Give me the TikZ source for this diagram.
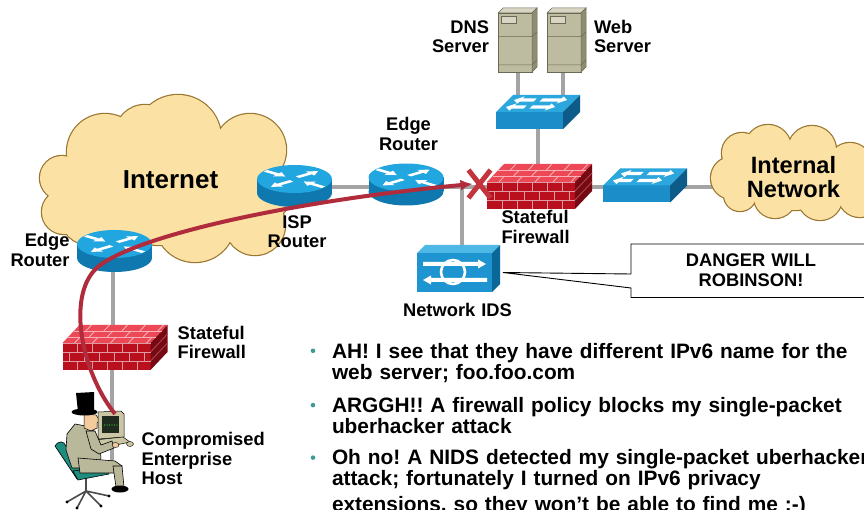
\documentclass[tikz,border=0pt]{standalone}
\usepackage{fontspec}
\setmainfont{Liberation Sans}
\usetikzlibrary{arrows.meta}
\frenchspacing

\definecolor{cloudfill}{HTML}{FBE2A4}
\definecolor{cloudline}{HTML}{9A7630}
\definecolor{linkgray}{HTML}{A4A4A4}
\definecolor{routertop}{HTML}{22A6DF}
\definecolor{routerside}{HTML}{0F78AE}
\definecolor{switchtop}{HTML}{2CA7DE}
\definecolor{switchfront}{HTML}{1B8DC8}
\definecolor{switchside}{HTML}{0C5B88}
\definecolor{idstop}{HTML}{4DB8E6}
\definecolor{idsfront}{HTML}{1E94D0}
\definecolor{idsside}{HTML}{0B6797}
\definecolor{brickfront}{HTML}{BA0F1D}
\definecolor{bricktop}{HTML}{EC4855}
\definecolor{brickside}{HTML}{760912}
\definecolor{mortarf}{HTML}{DE9BA1}
\definecolor{mortart}{HTML}{F7B0B6}
\definecolor{mortars}{HTML}{A8464F}
\definecolor{servfront}{HTML}{BEBCA0}
\definecolor{servtop}{HTML}{D8D6C2}
\definecolor{servside}{HTML}{8F8D71}
\definecolor{servline}{HTML}{6B6956}
\definecolor{attackred}{HTML}{B02B3C}
\definecolor{xred}{HTML}{C3343F}
\definecolor{bulletteal}{HTML}{3E9A96}
\definecolor{chairteal}{HTML}{1E8C7E}
\definecolor{suit}{HTML}{B9B89B}
\definecolor{skin}{HTML}{F3CB9C}
\definecolor{pcbeige}{HTML}{CBC7A4}
\definecolor{screendark}{HTML}{1D2A1D}
\definecolor{screengreen}{HTML}{3DD23D}

% white block arrow: tail x, tail y, angle, length, shaft half width, head half width, head length
\newcommand\polyarrow[7]{%
  \fill[white,shift={(#1,#2)},rotate=#3]
    (0,-#5) -- ({#4-#7},-#5) -- ({#4-#7},-#6) -- (#4,0) -- ({#4-#7},#6) -- ({#4-#7},#5) -- (0,#5) -- cycle;}

% cloud as a union of circles: outline pass, then fill pass
\newcommand\puffcloud[1]{%
  \foreach \px/\py/\pr in {#1} {\draw[cloudline, line width=2.4pt] (\px,\py) circle[radius=\pr];}
  \foreach \px/\py/\pr in {#1} {\fill[cloudfill] (\px,\py) circle[radius=\pr];}}

\tikzset{
  devbox/.style={inner sep=0pt, outer sep=0pt, draw=none},
  link/.style={draw=linkgray, line width=4pt},
  mfront/.style={draw=mortarf, line width=0.9pt},
  mtop/.style={draw=mortart, line width=0.9pt},
  lblfont/.style={font=\bfseries\fontsize{18.3}{19.5}\selectfont, inner sep=0pt, outer sep=0pt, text width=140pt},
  lblL/.style={lblfont, align=left, anchor=base west},
  lblR/.style={lblfont, align=right, anchor=base east},
  lblC/.style={lblfont, align=center, anchor=base},
  bul/.style={font=\bfseries\fontsize{20.85}{21}\selectfont, inner sep=0pt, outer sep=0pt,
              text width=560pt, align=left, anchor=base west},
  attack/.style={draw=attackred, line width=4pt, -{Latex[length=12pt,width=11pt]}},
  xstroke/.style={draw=xred, line width=5pt},
  router/.pic={
    \fill[routerside] (-37.5,-7) rectangle (37.5,7);
    \fill[routerside] (0,7) ellipse [x radius=37.5, y radius=14];
    \fill[routertop] (0,-7) ellipse [x radius=37.5, y radius=14];
    \begin{scope}[shift={(0,-7)}, yscale=0.3733]
      \polyarrow{-29}{-22}{-38}{25}{2.8}{7}{10}
      \polyarrow{3}{-5}{38}{26}{2.8}{7}{10}
      \polyarrow{-3}{5}{218}{26}{2.8}{7}{10}
      \polyarrow{29}{22}{142}{25}{2.8}{7}{10}
    \end{scope}
  },
  switch/.pic={
    \fill[switchfront] (-42,0) rectangle (25,17);
    \fill[switchtop] (-42,0) -- (-25,-17) -- (42,-17) -- (25,0) -- cycle;
    \fill[switchside] (25,0) -- (42,-17) -- (42,0) -- (25,17) -- cycle;
    \begin{scope}[shift={(-42,0)}, xslant=1]
      \polyarrow{27}{-12}{180}{21}{1.6}{3.6}{7}
      \polyarrow{33}{-12}{0}{26}{1.6}{3.6}{7}
      \polyarrow{24}{-5}{180}{19}{1.6}{3.6}{7}
      \polyarrow{30}{-5}{0}{24}{1.6}{3.6}{7}
    \end{scope}
  },
  firewall/.pic={
    \fill[brickfront] (-52.5,-4.5) rectangle (35.5,22.5);
    \fill[bricktop] (-52.5,-4.5) -- (-35.5,-22.5) -- (52.5,-22.5) -- (35.5,-4.5) -- cycle;
    \fill[brickside] (35.5,-4.5) -- (52.5,-22.5) -- (52.5,4.5) -- (35.5,22.5) -- cycle;
    \draw[mfront] (-52.5,-4.5) -- (35.5,-4.5) (-52.5,4.5) -- (35.5,4.5) (-52.5,13.5) -- (35.5,13.5);
    \foreach \bx in {15,30,45,60,75} {\draw[mfront] ({-52.5+\bx},-4.5) -- ({-52.5+\bx},4.5) ({-52.5+\bx},13.5) -- ({-52.5+\bx},22.5);}
    \foreach \bx in {7,22,37,52,67,82} {\draw[mfront] ({-52.5+\bx},4.5) -- ({-52.5+\bx},13.5);}
    \begin{scope}[shift={(-52.5,-4.5)}, xslant=0.944]
      \draw[mtop] (0,-6) -- (88,-6) (0,-12) -- (88,-12);
      \foreach \bx in {12,30,48,66,84} {\draw[mtop] (\bx,0) -- (\bx,-6) (\bx,-12) -- (\bx,-18);}
      \foreach \bx in {21,39,57,75} {\draw[mtop] (\bx,-6) -- (\bx,-12);}
    \end{scope}
    \draw[mortars, line width=0.9pt] (35.5,4.5) -- (52.5,-13.5) (35.5,13.5) -- (52.5,-4.5);
  },
  idsbox/.pic={
    \fill[idsfront] (-41.5,-15.5) rectangle (33.5,23.5);
    \fill[idstop] (-41.5,-15.5) -- (-33.5,-23.5) -- (41.5,-23.5) -- (33.5,-15.5) -- cycle;
    \fill[idsside] (33.5,-15.5) -- (41.5,-23.5) -- (41.5,15.5) -- (33.5,23.5) -- cycle;
    \draw[white, line width=2.6pt] (-5.5,3.5) circle[radius=12];
    \polyarrow{-35.5}{-4.5}{0}{63}{2}{4.5}{8}
    \polyarrow{28.5}{11.5}{180}{64}{2}{4.5}{8}
  },
  server/.pic={
    \filldraw[fill=servfront, draw=servline, line width=0.5pt] (-19.5,-27) rectangle (14.5,32);
    \filldraw[fill=servtop, draw=servline, line width=0.5pt] (-19.5,-27) -- (-14.5,-32) -- (19.5,-32) -- (14.5,-27) -- cycle;
    \filldraw[fill=servside, draw=servline, line width=0.5pt] (14.5,-27) -- (19.5,-32) -- (19.5,27) -- (14.5,32) -- cycle;
    \filldraw[fill=servtop, draw=servline, line width=0.5pt] (-15.8,-23.3) rectangle (-0.8,-16.7);
    \draw[servline, line width=0.5pt] (-19.5,-3.3) -- (14.5,-3.3) -- (19.5,-8.3);
    \draw[servline, line width=0.5pt] (-19.5,25) -- (14.5,25) -- (19.5,20);
  }
}

\begin{document}
\begin{tikzpicture}[x=1pt,y=-1pt]
\useasboundingbox (0,0) rectangle (864,510);
\clip (0,0) rectangle (864,510);
\fill[white] (0,0) rectangle (864,510);

% device frames (positions of the icons)
\node[devbox, minimum width=250pt, minimum height=170pt] (inetcloud) at (165,180) {};
\node[devbox, minimum width=150pt, minimum height=96pt] (intcloud) at (790,171) {};
\node[devbox, minimum width=75pt, minimum height=42pt] (edgeL) at (114.5,251) {};
\node[devbox, minimum width=75pt, minimum height=42pt] (isp) at (294.5,186) {};
\node[devbox, minimum width=75pt, minimum height=42pt] (edgeR) at (406,184.5) {};
\node[devbox, minimum width=105pt, minimum height=45pt] (fwTop) at (539.5,186.5) {};
\node[devbox, minimum width=105pt, minimum height=45pt] (fwL) at (115,347.5) {};
\node[devbox, minimum width=84pt, minimum height=34pt] (swTop) at (538,112) {};
\node[devbox, minimum width=84pt, minimum height=34pt] (swRight) at (645,185.5) {};
\node[devbox, minimum width=83pt, minimum height=47pt] (ids) at (458.5,268.5) {};
\node[devbox, minimum width=39pt, minimum height=64pt] (dns) at (517.5,40) {};
\node[devbox, minimum width=39pt, minimum height=64pt] (web) at (566.5,40) {};
\node[devbox, minimum width=22pt, minimum height=28pt] (xmark) at (479.5,184) {};

\coordinate (bus) at (0,187);
\coordinate (webjack) at ([xshift=-4pt]web.south);
\coordinate (idsjack) at ([xshift=3.5pt]ids.north);
\coordinate (edgeLjack) at ([xshift=-2pt]edgeL.center);
\coordinate (hostjack) at (112,462);
\coordinate (mon) at (115,414);
\coordinate (hit) at ([xshift=-7pt]xmark.center);
\coordinate (idsport) at ([shift={(3,4)}]ids.east);

% cabling
\draw[link] (isp.center |- bus) -- (edgeR.center |- bus);
\draw[link] (edgeR.center |- bus) -- (fwTop.center |- bus);
\draw[link] (fwTop.center |- bus) -- (swRight.center |- bus);
\draw[link] (swRight.center |- bus) -- (intcloud.center |- bus);
\draw[link] (dns.center) -- (dns.center |- swTop.center);
\draw[link] (webjack) -- (webjack |- swTop.center);
\draw[link] (swTop.center) -- (swTop.center |- fwTop.center);
\draw[link] (idsjack |- bus) -- (idsjack |- ids.center);
\draw[link] (edgeLjack) -- (edgeLjack |- fwL.center);
\draw[link] (fwL.center -| hostjack) -- (hostjack);

% clouds
\puffcloud{62/178/22, 64/212/22, 105/152/38, 178/138/43, 250/150/36, 258/190/34,
           255/225/30, 195/222/40, 120/218/36, 160/185/60,
           100/190/32, 215/180/40, 232/205/34, 90/215/30, 145/135/30}
\puffcloud{732/178/21, 742/153/20, 768/148/23, 812/150/24, 850/165/22, 860/195/22,
           820/198/22, 775/197/21, 740/195/16, 795/175/35, 755/175/25, 835/180/25}

% network devices
\pic at (edgeL.center) {router};
\pic at (isp.center) {router};
\pic at (edgeR.center) {router};
\pic at (fwTop.center) {firewall};
\pic at (fwL.center) {firewall};
\pic at (swTop.center) {switch};
\pic at (swRight.center) {switch};
\pic at (ids.center) {idsbox};
\pic at (dns.center) {server};
\pic at (web.center) {server};

% the attacker at his workstation
\draw[gray!60!black, line width=1.6pt] (86,478) -- (86,491);
\draw[gray!60!black, line width=1.6pt] (86,491) -- (67,502) (86,491) -- (77,508) (86,491) -- (101,506) (86,491) -- (109,496);
\foreach \q in {(67,502),(77,508),(101,506),(109,496)} \fill[black] \q circle[radius=1.6];
\filldraw[fill=chairteal, draw=black, line width=0.6pt] (55,446) .. controls (59,440) and (64,441) .. (66,446) -- (83,472) -- (77,479) -- cycle;
\filldraw[fill=chairteal, draw=black, line width=0.6pt] (73,471) -- (105,467) -- (109,474) -- (78,480) -- cycle;
\filldraw[fill=suit, draw=black, line width=0.6pt] (75,424) -- (91,427) -- (99,440) -- (101,458) -- (96,468) -- (72,468) -- (66,450) -- (67,434) -- cycle;
\filldraw[fill=suit, draw=black, line width=0.6pt] (78,458) -- (115,461) -- (122,466) -- (121,473) -- (80,473) -- cycle;
\filldraw[fill=suit, draw=black, line width=0.6pt] (113,466) -- (122,466) -- (124,487) -- (116,487) -- cycle;
\fill[black] (120,489) ellipse [x radius=8.5, y radius=3.5];
\filldraw[fill=skin, draw=black, line width=0.5pt] (84,414) -- (96,415) -- (100,421) -- (97,423) -- (97,428) -- (91,431) -- (84,428) -- cycle;
\fill[black] (76,393) -- (94,392) -- (94,411) -- (78,412) -- cycle;
\fill[black] (84.5,412) ellipse [x radius=13, y radius=3.5];
\filldraw[fill=pcbeige, draw=black, line width=0.5pt] (98,412) -- (121,411) -- (124,414) -- (124,437) -- (98,439) -- cycle;
\fill[screendark] (102,416) rectangle (119,433);
\foreach \gx in {104.5,107,109.5,112,114.5,117} \fill[screengreen] (\gx,425) circle[radius=0.6];
\filldraw[fill=pcbeige, draw=black, line width=0.5pt] (95,440) -- (123,437) -- (130,442) -- (102,448) -- cycle;
\filldraw[fill=pcbeige, draw=black, line width=0.4pt] (130,444) ellipse [x radius=3.5, y radius=2.5];
\filldraw[fill=suit, draw=black, line width=0.6pt] (86,431) -- (95,431) -- (101,445) -- (112,441) -- (114,448) -- (99,454) -- (91,449) -- cycle;
\filldraw[fill=skin, draw=black, line width=0.4pt] (115.5,445) ellipse [x radius=3.5, y radius=2.5];

% attack path, stopped at the firewall
\draw[attack] (mon) .. controls (80,370) and (66,292) .. (99,266)
                    .. controls (140,234) and (300,200) .. (hit);
\draw[xstroke] (xmark.north west) -- (xmark.south east) (xmark.north east) -- (xmark.south west);

% IDS alert callout
\node[devbox, minimum width=240pt, minimum height=53.5pt, anchor=north west] (bubble) at (631,244) {};
\filldraw[fill=white, draw=black, line width=0.9pt]
  (bubble.north east) -- (bubble.north west) -- ([shift={(0,30)}]bubble.north west) -- (idsport)
  -- ([shift={(0,44)}]bubble.north west) -- (bubble.south west) -- (bubble.south east);
\node[lblC] (danger) at (751,266.7) {DANGER WILL\\ROBINSON!};

% labels
\node[font=\bfseries\fontsize{26}{30}\selectfont, inner sep=0pt, anchor=base] (inetlbl) at (170.5,188.3) {Internet};
\node[font=\bfseries\fontsize{23.6}{24}\selectfont, inner sep=0pt, anchor=base, align=center, text width=120pt] (intlbl) at (793.5,173.3) {Internal\\Network};
\node[lblR] (dnslbl) at (489,33.3) {DNS\\Server};
\node[lblL] (weblbl) at (594,33.3) {Web\\Server};
\node[lblC] (edgeRlbl) at (408.5,130.7) {Edge\\Router};
\node[lblC] (isplbl) at (297,228.3) {ISP\\Router};
\node[lblR] (edgeLlbl) at (69.5,246.7) {Edge\\Router};
\node[lblL] (fwToplbl) at (501.5,224) {Stateful\\Firewall};
\node[lblC] (idslbl) at (457.5,316.7) {Network IDS};
\node[lblL] (fwLlbl) at (177.7,339) {Stateful\\Firewall};
\node[lblL] (hostlbl) at (141.7,445.7) {Compromised\\Enterprise\\Host};

% bulleted notes
\node[bul] (b1) at (332,358) {AH! I see that they have different IPv6 name for the\\web server; foo.foo.com};
\node[bul] (b2) at (332,412.3) {ARGGH!! A firewall policy blocks my single-packet\\uberhacker attack};
\node[bul] (b3) at (332,464.8) {Oh no! A NIDS detected my single-packet uberhacker\\attack; fortunately I turned on IPv6 privacy\\[5pt]extensions, so they won’t be able to find me ;-)};
\foreach \b in {b1,b2,b3} \fill[bulletteal] ([shift={(-19,-7.2)}]\b.base west) circle[radius=2.3];
\end{tikzpicture}
\end{document}
